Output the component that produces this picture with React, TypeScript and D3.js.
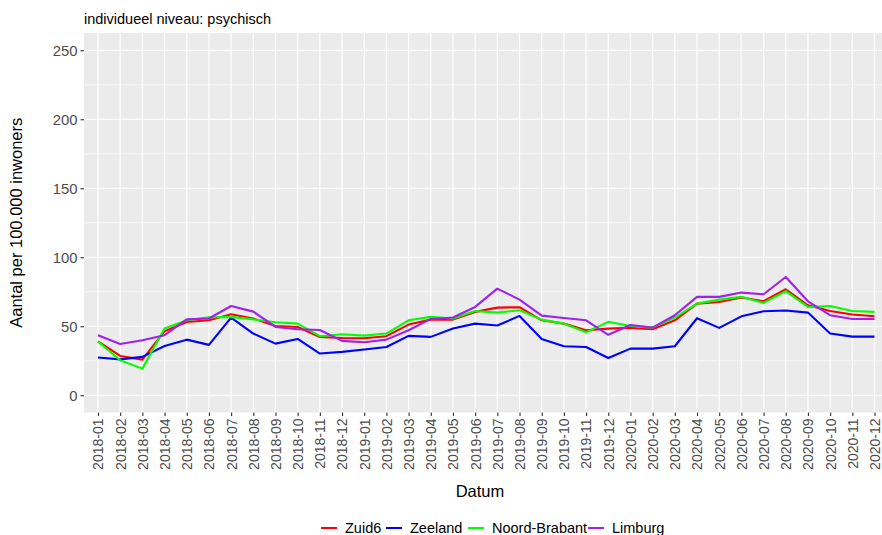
import * as d3 from "d3";
import { useEffect, useRef } from "react";

const months = [
  "2018-01", "2018-02", "2018-03", "2018-04", "2018-05", "2018-06",
  "2018-07", "2018-08", "2018-09", "2018-10", "2018-11", "2018-12",
  "2019-01", "2019-02", "2019-03", "2019-04", "2019-05", "2019-06",
  "2019-07", "2019-08", "2019-09", "2019-10", "2019-11", "2019-12",
  "2020-01", "2020-02", "2020-03", "2020-04", "2020-05", "2020-06",
  "2020-07", "2020-08", "2020-09", "2020-10", "2020-11", "2020-12",
];

const zuid6 = [
  39, 28.5, 25.8, 46.4, 53.1, 54.3, 58.7, 55.6, 50.2, 49.5, 42.2, 41.5,
  41.3, 42.8, 51.2, 54.8, 54.8, 60.4, 63.5, 63.8, 54.3, 51.9, 47.1, 48.3,
  48.8, 47.8, 54.3, 66.4, 67.6, 70.8, 68.1, 76.8, 65.2, 61.1, 58.5, 57.2,
];
const zeeland = [
  27.3, 26, 27.8, 35.7, 40.3, 36.5, 56.3, 44.7, 37.4, 40.8, 30.2, 31.4,
  33.1, 35, 43, 42.3, 48.3, 51.9, 50.5, 57.5, 40.8, 35.5, 35, 27,
  33.8, 33.8, 35.5, 55.8, 48.8, 57.2, 60.9, 61.4, 59.9, 44.7, 42.5, 42.5,
];
const noordBrabant = [
  39, 25.4, 19.3, 48.3, 54.3, 56.5, 56.8, 55, 52.9, 51.9, 42.8, 44.2,
  43.2, 44.7, 54.3, 56.8, 55.6, 61.1, 59.9, 61.6, 54.8, 51.9, 45.7, 53.2,
  50.2, 49, 56.3, 66.4, 69.3, 71.3, 66.9, 75.4, 64, 64.7, 61.1, 60.4,
];
const limburg = [
  43.5, 37.2, 39.9, 43.5, 55, 55.6, 64.7, 60.6, 49.5, 47.8, 47.3, 39.4,
  38.4, 40.3, 47.1, 55.3, 56.3, 64, 77.3, 69.3, 57.7, 56, 54.3, 43.8,
  50.9, 49, 58, 71.3, 71.3, 74.4, 73.2, 85.7, 68.1, 58, 55.3, 55.3,
];

const seriesNames = ["Zuid6", "Zeeland", "Noord-Brabant", "Limburg"];
const seriesValues = [zuid6, zeeland, noordBrabant, limburg];
const seriesColors = ["#FF0000", "#0000FF", "#00FF00", "#A020F0"];
const yTicks = [0, 50, 100, 150, 200, 250];
const yMinor = [25, 75, 125, 175, 225];

export default function App() {
  const ref = useRef<SVGSVGElement>(null);
  const W = 882;
  const H = 535;
  const left = 84;
  const top = 33;
  const right = 890;
  const bottom = 412.5;

  useEffect(() => {
    const svg = d3.select(ref.current);
    svg.selectAll("*").remove();
    const font = "Liberation Sans, Arial, sans-serif";

    const x = d3.scalePoint<string>().domain(months).range([98, 874.5]);
    const y = d3.scaleLinear().domain([-12.5, 262.5]).range([bottom, top]);

    svg.append("rect").attr("width", W).attr("height", H).attr("fill", "white");

    svg
      .append("rect")
      .attr("x", left)
      .attr("y", top)
      .attr("width", right - left)
      .attr("height", bottom - top)
      .attr("fill", "#EBEBEB");

    const grid = svg.append("g");
    grid
      .selectAll(".minor")
      .data(yMinor)
      .join("line")
      .attr("x1", left)
      .attr("x2", right)
      .attr("y1", (d) => y(d))
      .attr("y2", (d) => y(d))
      .attr("stroke", "white")
      .attr("stroke-width", 0.6);
    grid
      .selectAll(".major")
      .data(yTicks)
      .join("line")
      .attr("x1", left)
      .attr("x2", right)
      .attr("y1", (d) => y(d))
      .attr("y2", (d) => y(d))
      .attr("stroke", "white")
      .attr("stroke-width", 1.2);
    grid
      .selectAll(".vmajor")
      .data(months)
      .join("line")
      .attr("x1", (d) => x(d)!)
      .attr("x2", (d) => x(d)!)
      .attr("y1", top)
      .attr("y2", bottom)
      .attr("stroke", "white")
      .attr("stroke-width", 1.2);

    // y axis
    const yAxis = d3.axisLeft(y).tickValues(yTicks).tickSize(3.5).tickPadding(3);
    const ya = svg
      .append("g")
      .attr("transform", `translate(${left},0)`)
      .call(yAxis);
    ya.select(".domain").remove();
    ya.selectAll(".tick line").attr("stroke", "#333333").attr("stroke-width", 1.1);
    ya.selectAll(".tick text")
      .attr("fill", "#4D4D4D")
      .style("font-family", font)
      .style("font-size", "14.8px");

    // x axis
    const xAxis = d3.axisBottom(x).tickSize(3.5).tickPadding(3);
    const xa = svg
      .append("g")
      .attr("transform", `translate(0,${bottom})`)
      .call(xAxis);
    xa.select(".domain").remove();
    xa.selectAll(".tick line").attr("stroke", "#333333").attr("stroke-width", 1.1);
    xa.selectAll(".tick text")
      .attr("fill", "#4D4D4D")
      .style("font-family", font)
      .style("font-size", "14px")
      .attr("transform", "rotate(-90)")
      .attr("text-anchor", "end")
      .attr("x", -6)
      .attr("y", 0)
      .attr("dy", "0.35em");

    // lines
    const line = d3
      .line<number>()
      .x((d, i) => x(months[i])!)
      .y((d) => y(d));
    svg
      .append("g")
      .selectAll("path")
      .data(seriesValues)
      .join("path")
      .attr("d", (d) => line(d))
      .attr("fill", "none")
      .attr("stroke", (d, i) => seriesColors[i])
      .attr("stroke-width", 2.1)
      .attr("stroke-linejoin", "round");

    // titles
    svg
      .append("text")
      .attr("x", left)
      .attr("y", 24)
      .style("font-family", font)
      .style("font-size", "14.5px")
      .attr("fill", "black")
      .text("individueel niveau: psychisch");
    svg
      .append("text")
      .attr("x", 480)
      .attr("y", 497)
      .attr("text-anchor", "middle")
      .style("font-family", font)
      .style("font-size", "16.5px")
      .attr("fill", "black")
      .text("Datum");
    svg
      .append("text")
      .attr("transform", `translate(22,${(top + bottom) / 2}) rotate(-90)`)
      .attr("text-anchor", "middle")
      .style("font-family", font)
      .style("font-size", "16.5px")
      .attr("fill", "black")
      .text("Aantal per 100.000 inwoners");

    // legend
    const legendX = [321, 386, 468, 588];
    const lg = svg
      .append("g")
      .selectAll("g")
      .data(seriesNames)
      .join("g")
      .attr("transform", (d, i) => `translate(${legendX[i]},528)`);
    lg.append("line")
      .attr("x1", 0)
      .attr("x2", 16)
      .attr("stroke", (d, i) => seriesColors[i])
      .attr("stroke-width", 2);
    lg.append("text")
      .attr("x", 24)
      .attr("dy", "0.35em")
      .style("font-family", font)
      .style("font-size", "14.5px")
      .attr("fill", "black")
      .text((d) => d);
  }, []);

  return (
    <svg
      ref={ref}
      width={W}
      height={H}
      style={{ position: "absolute", left: 0, top: 0 }}
    />
  );
}
